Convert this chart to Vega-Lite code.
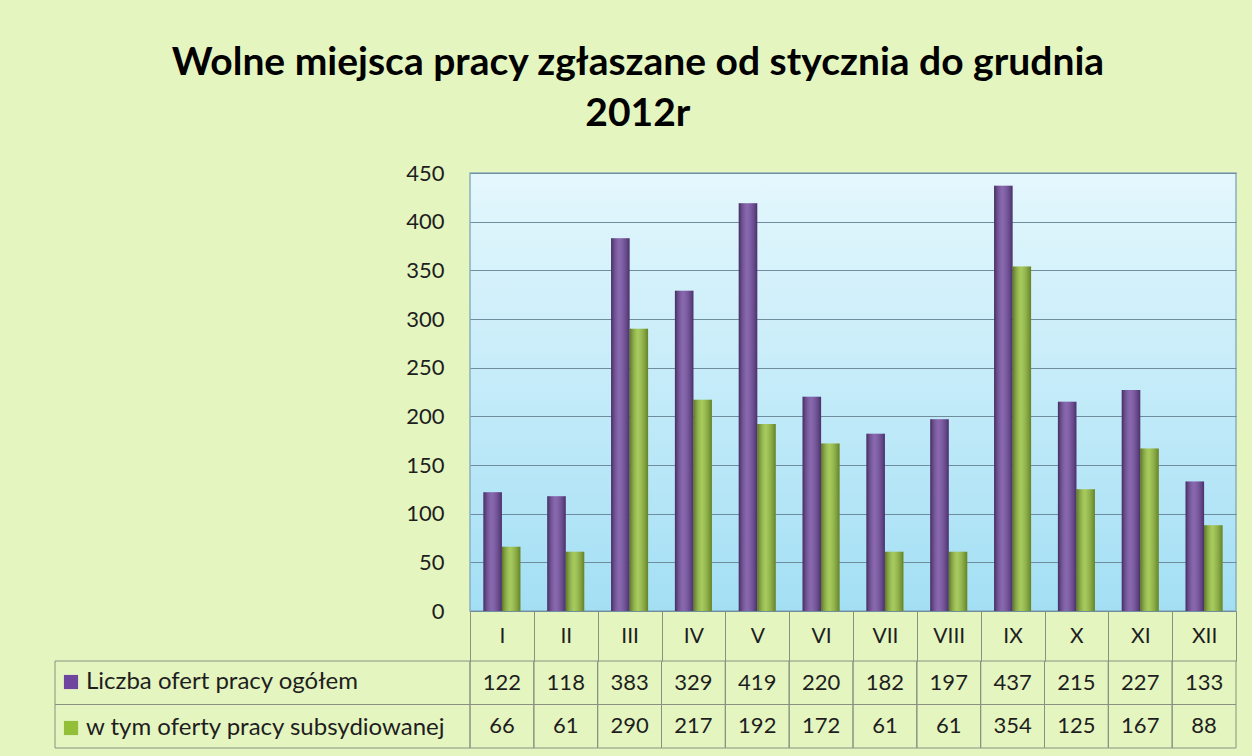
{
  "$schema": "https://vega.github.io/schema/vega-lite/v6.json",
  "background": "#e4f5c0",
  "padding": {"left": 54, "top": 44, "right": 17, "bottom": 8},
  "title": {
    "text": ["Wolne miejsca pracy zgłaszane od stycznia do grudnia", "2012r"],
    "font": "Lato", "fontSize": 39, "fontWeight": "bold", "color": "#000000",
    "lineHeight": 51, "anchor": "middle", "offset": 27, "dx": -8
  },
  "datasets": {
    "d": [
      {"month": "I", "series": "Liczba ofert pracy ogółem", "value": 122},
      {"month": "II", "series": "Liczba ofert pracy ogółem", "value": 118},
      {"month": "III", "series": "Liczba ofert pracy ogółem", "value": 383},
      {"month": "IV", "series": "Liczba ofert pracy ogółem", "value": 329},
      {"month": "V", "series": "Liczba ofert pracy ogółem", "value": 419},
      {"month": "VI", "series": "Liczba ofert pracy ogółem", "value": 220},
      {"month": "VII", "series": "Liczba ofert pracy ogółem", "value": 182},
      {"month": "VIII", "series": "Liczba ofert pracy ogółem", "value": 197},
      {"month": "IX", "series": "Liczba ofert pracy ogółem", "value": 437},
      {"month": "X", "series": "Liczba ofert pracy ogółem", "value": 215},
      {"month": "XI", "series": "Liczba ofert pracy ogółem", "value": 227},
      {"month": "XII", "series": "Liczba ofert pracy ogółem", "value": 133},
      {"month": "I", "series": "w tym oferty pracy subsydiowanej", "value": 66},
      {"month": "II", "series": "w tym oferty pracy subsydiowanej", "value": 61},
      {"month": "III", "series": "w tym oferty pracy subsydiowanej", "value": 290},
      {"month": "IV", "series": "w tym oferty pracy subsydiowanej", "value": 217},
      {"month": "V", "series": "w tym oferty pracy subsydiowanej", "value": 192},
      {"month": "VI", "series": "w tym oferty pracy subsydiowanej", "value": 172},
      {"month": "VII", "series": "w tym oferty pracy subsydiowanej", "value": 61},
      {"month": "VIII", "series": "w tym oferty pracy subsydiowanej", "value": 61},
      {"month": "IX", "series": "w tym oferty pracy subsydiowanej", "value": 354},
      {"month": "X", "series": "w tym oferty pracy subsydiowanej", "value": 125},
      {"month": "XI", "series": "w tym oferty pracy subsydiowanej", "value": 167},
      {"month": "XII", "series": "w tym oferty pracy subsydiowanej", "value": 88}
    ]
  },
  "columns": 2,
  "spacing": {"row": 50, "column": 0},
  "bounds": "flush",
  "resolve": {"scale": {"x": "independent", "y": "independent"}},
  "concat": [
    {
      "width": 415, "height": 438,
      "data": {"values": [{}]},
      "mark": {"type": "text", "text": ""},
      "encoding": {}
    },
    {
      "width": 766, "height": 438,
      "data": {"name": "d"},
      "view": {
        "stroke": "#8aaebf", "strokeWidth": 1.5,
        "fill": {"gradient": "linear", "x1": 0, "y1": 0, "x2": 0, "y2": 1,
          "stops": [{"offset": 0, "color": "#e4f7fd"}, {"offset": 1, "color": "#a3dff4"}]}
      },
      "encoding": {
        "x": {
          "field": "month", "type": "nominal",
          "sort": ["I","II","III","IV","V","VI","VII","VIII","IX","X","XI","XII"],
          "scale": {"paddingInner": 0, "paddingOuter": 0},
          "axis": {
            "title": null, "labelFontSize": 21, "labelFont": "Lato", "labelColor": "#1e1e1e",
            "labelAngle": 0, "domain": false, "ticks": true, "tickBand": "extent",
            "tickSize": 50, "tickColor": "#8c9080", "tickWidth": 1,
            "labelPadding": -25, "labelBaseline": "middle", "grid": false
          }
        },
        "xOffset": {"field": "series", "type": "nominal",
          "sort": ["Liczba ofert pracy ogółem", "w tym oferty pracy subsydiowanej"],
          "scale": {"paddingInner": 0, "paddingOuter": 0.725}},
        "y": {
          "field": "value", "type": "quantitative",
          "scale": {"domain": [0, 450], "nice": false},
          "axis": {
            "title": null, "values": [0,50,100,150,200,250,300,350,400,450],
            "labelFontSize": 22, "labelFont": "Lato", "labelColor": "#1e1e1e",
            "ticks": false, "domain": false, "labelPadding": 26,
            "grid": true, "gridColor": "#6f8d9c", "gridWidth": 1.2
          }
        }
      },
      "layer": [
        {
          "mark": {"type": "bar"},
          "encoding": {
            "color": {
              "field": "series", "type": "nominal",
              "sort": ["Liczba ofert pracy ogółem", "w tym oferty pracy subsydiowanej"],
              "scale": {"range": ["#6e469e", "#93bf38"]},
              "legend": {
                "title": null, "orient": "none", "legendX": 4, "legendY": 497,
                "symbolType": "square", "symbolSize": 200, "symbolStrokeWidth": 0,
                "labelFontSize": 24, "labelFont": "Lato", "labelColor": "#1e1e1e",
                "labelLimit": 500, "rowPadding": 22, "labelOffset": 3, "padding": 0
              }
            }
          }
        },
        {
          "mark": {
            "type": "bar", "strokeWidth": 0,
            "fill": {"gradient": "linear", "x1": 0, "y1": 0, "x2": 1, "y2": 0,
              "stops": [
                {"offset": 0, "color": "rgba(0,0,0,0.38)"},
                {"offset": 0.45, "color": "rgba(255,255,255,0.18)"},
                {"offset": 1, "color": "rgba(0,0,0,0.32)"}
              ]}
          }
        }
      ]
    },
    {
      "width": 415, "height": 87,
      "data": {"name": "d"},
      "transform": [{"filter": "datum.month === 'I'"}],
      "mark": {"type": "rect", "fill": "transparent", "stroke": "#8c9080", "strokeWidth": 1},
      "encoding": {
        "y": {"field": "series", "type": "nominal",
          "sort": ["Liczba ofert pracy ogółem", "w tym oferty pracy subsydiowanej"],
          "axis": null}
      }
    },
    {
      "width": 766, "height": 87,
      "data": {"name": "d"},
      "encoding": {
        "x": {"field": "month", "type": "nominal",
          "sort": ["I","II","III","IV","V","VI","VII","VIII","IX","X","XI","XII"], "axis": null},
        "y": {"field": "series", "type": "nominal",
          "sort": ["Liczba ofert pracy ogółem", "w tym oferty pracy subsydiowanej"], "axis": null}
      },
      "layer": [
        {"mark": {"type": "rect", "fill": "transparent", "stroke": "#8c9080", "strokeWidth": 1}},
        {"mark": {"type": "text", "font": "Lato", "fontSize": 22, "color": "#1e1e1e"},
         "encoding": {"text": {"field": "value", "type": "quantitative"}}}
      ]
    }
  ],
  "config": {
    "view": {"stroke": null},
    "font": "Lato"
  }
}
